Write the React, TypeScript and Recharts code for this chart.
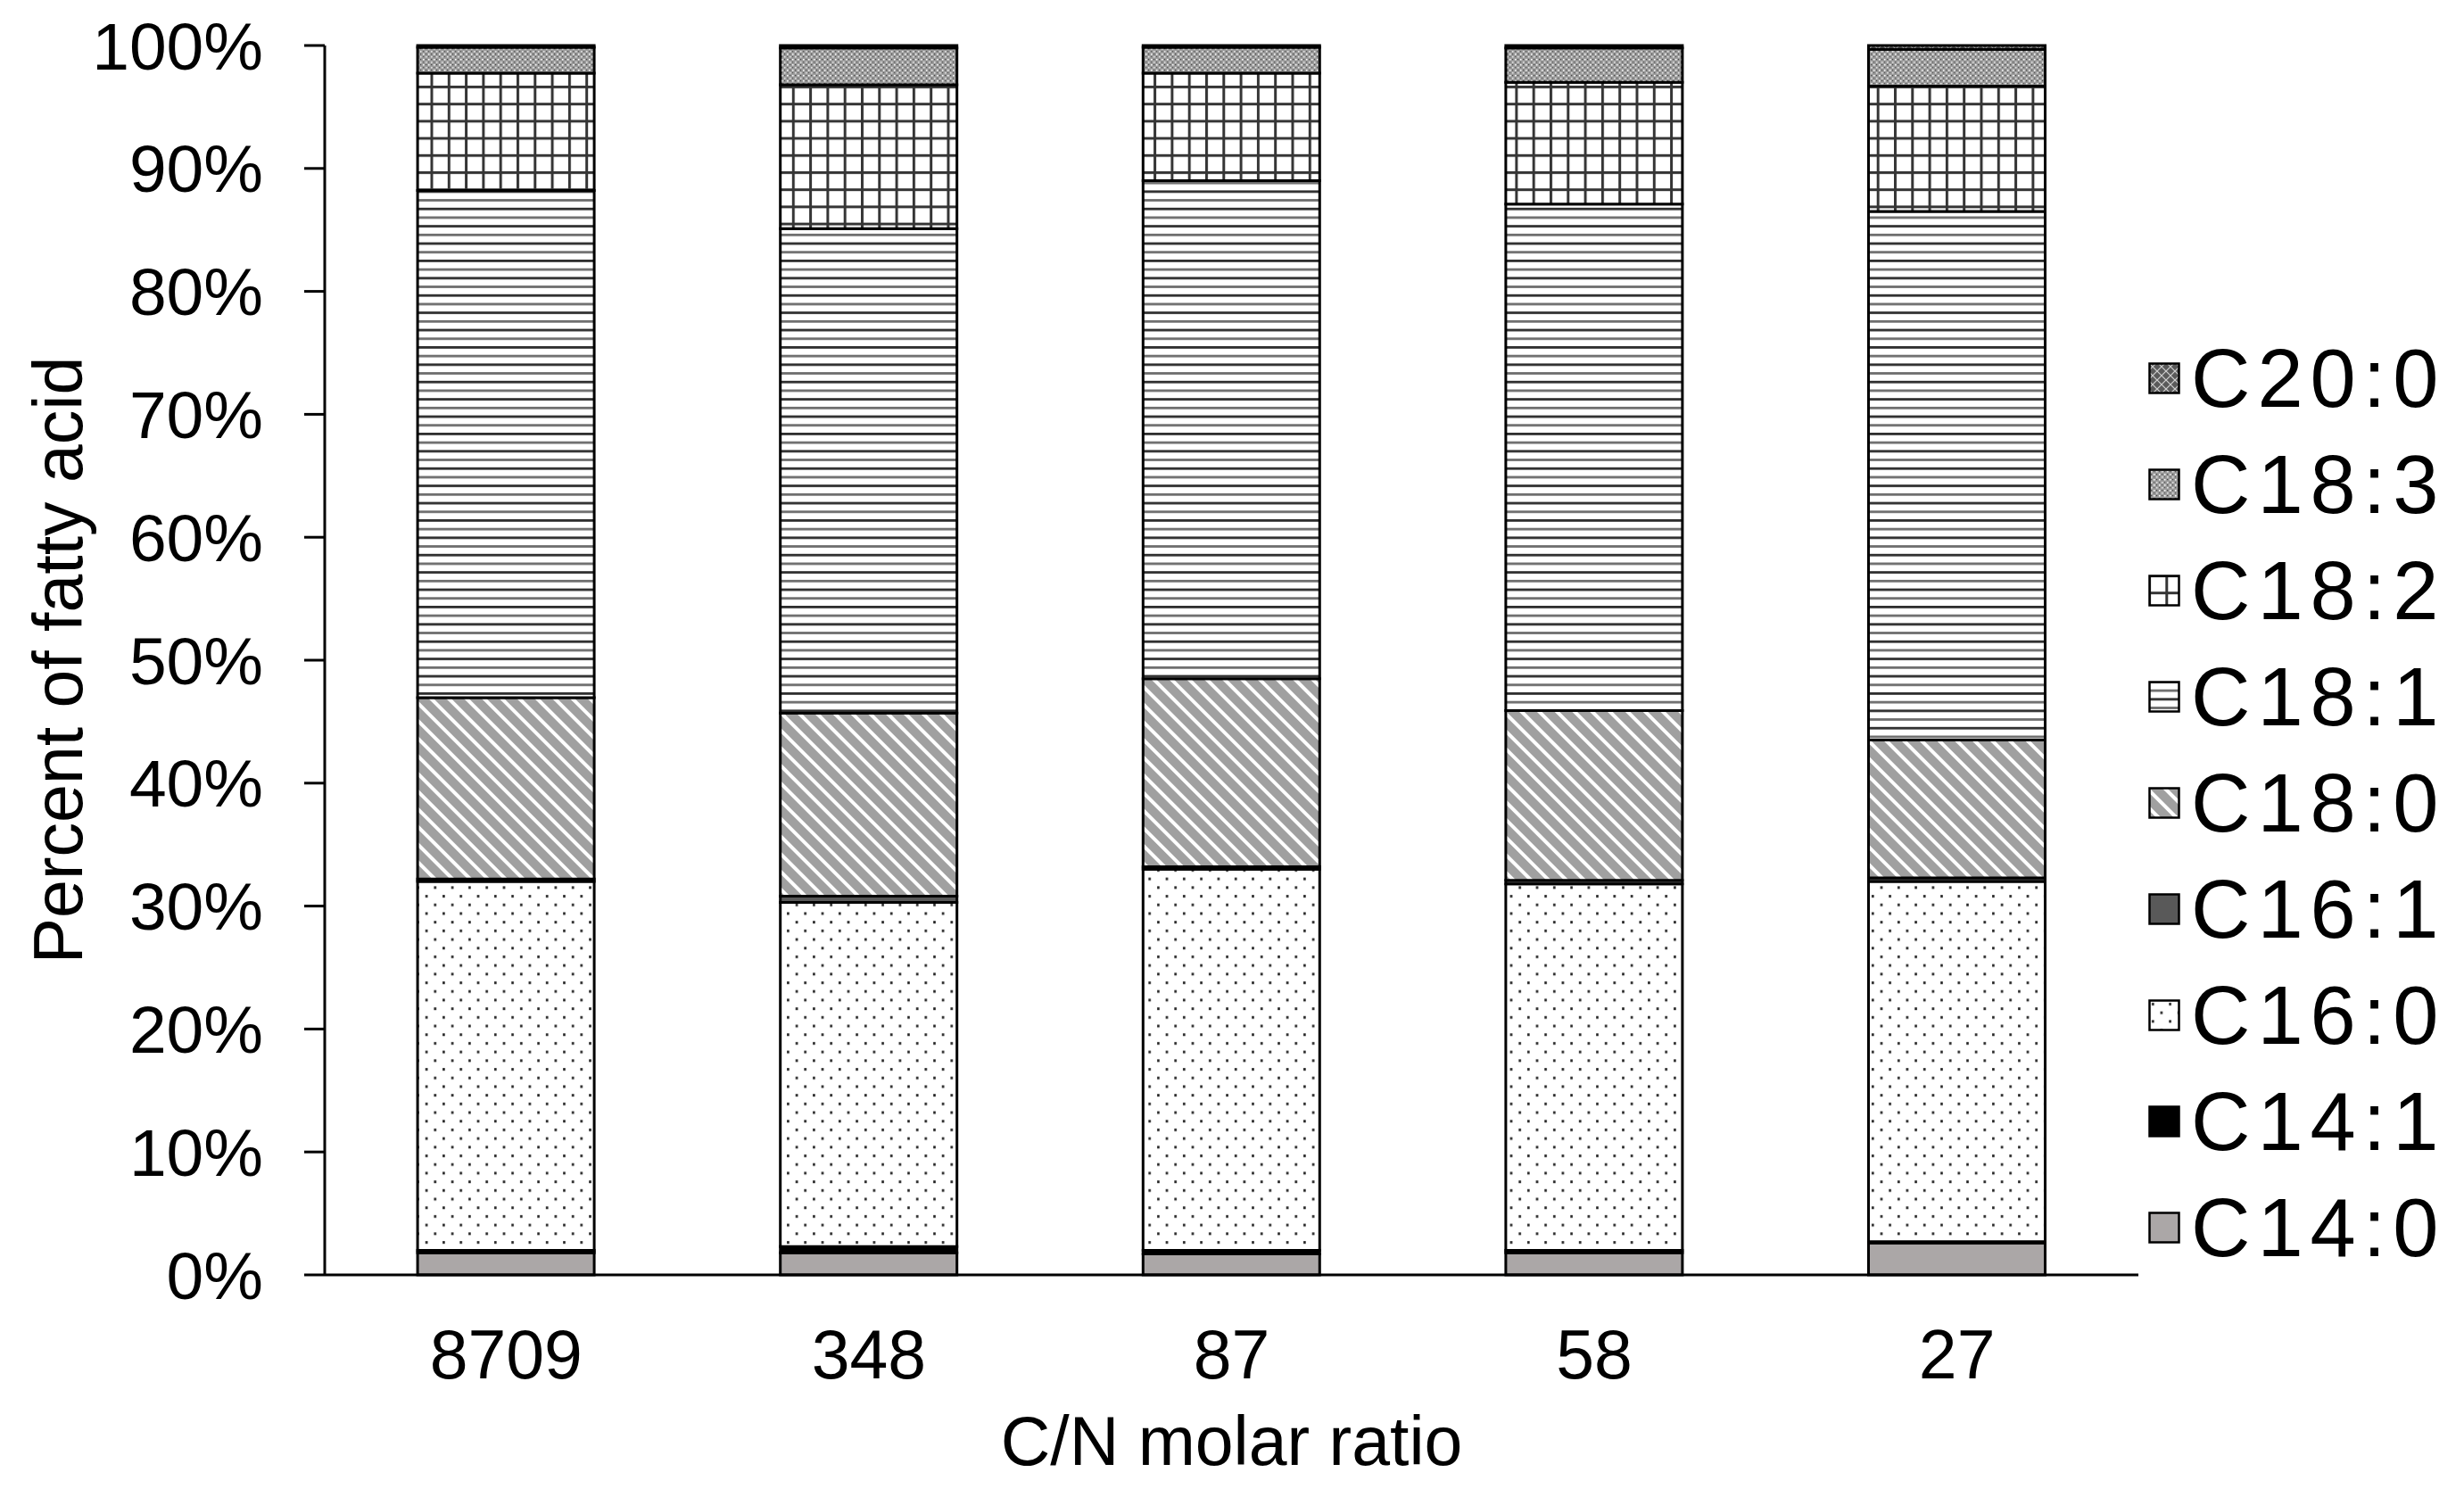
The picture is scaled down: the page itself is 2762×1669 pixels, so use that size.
import React from "react";
import { BarChart, Bar, XAxis, YAxis, Legend } from "recharts";

const FONT = "'Liberation Sans', Arial, Helvetica, sans-serif";

// C/N molar ratio categories
const categories = ["8709", "348", "87", "58", "27"];

// fatty acid share (%) per category, bottom of stack first
const c14_0 = [1.8, 1.8, 1.7, 1.8, 2.6];
const c14_1 = [0.2, 0.5, 0.3, 0.2, 0.1];
const c16_0 = [30.0, 28.0, 31.0, 29.8, 29.3];
const c16_1 = [0.2, 0.5, 0.2, 0.3, 0.3];
const c18_0 = [14.75, 14.9, 15.3, 13.8, 11.2];
const c18_1 = [41.25, 39.4, 40.5, 41.2, 43.0];
const c18_2 = [9.55, 11.7, 8.75, 9.9, 10.2];
const c18_3 = [2.1, 3.0, 2.1, 2.8, 3.0];
const c20_0 = [0.15, 0.2, 0.15, 0.2, 0.3];

const seriesNames = ["C14:0", "C14:1", "C16:0", "C16:1", "C18:0", "C18:1", "C18:2", "C18:3", "C20:0"];
const seriesValues = [c14_0, c14_1, c16_0, c16_1, c18_0, c18_1, c18_2, c18_3, c20_0];
const seriesFills = [
  "#aba7a7",
  "#000000",
  "url(#pat-c160)",
  "#595959",
  "url(#pat-c180)",
  "url(#pat-c181)",
  "url(#pat-c182)",
  "url(#pat-c183)",
  "url(#pat-c200)",
];

const yTicks = [0, 10, 20, 30, 40, 50, 60, 70, 80, 90, 100];

const data = categories.map((ratio, i) => {
  const row: Record<string, string | number> = { ratio };
  seriesNames.forEach((name, j) => {
    row[name] = seriesValues[j][i];
  });
  return row;
});

const Patterns = () => (
  <defs>
    {/* C16:0 sparse dots */}
    <pattern id="pat-c160" patternUnits="userSpaceOnUse" width="19.3" height="19.4">
      <rect width="19.3" height="19.4" fill="#ffffff" />
      <rect x="4" y="4" width="2.6" height="3" fill="#222222" />
      <rect x="13.6" y="13.7" width="2.6" height="3" fill="#222222" />
    </pattern>
    {/* C18:0 gray with white diagonal lines */}
    <pattern id="pat-c180" patternUnits="userSpaceOnUse" width="14" height="14" patternTransform="rotate(45)">
      <rect width="14" height="14" fill="#a0a0a0" />
      <rect x="0" y="0" width="14" height="4" fill="#ffffff" />
    </pattern>
    {/* C18:1 horizontal lines */}
    <pattern id="pat-c181" patternUnits="userSpaceOnUse" width="20" height="19.4">
      <rect width="20" height="19.4" fill="#ffffff" />
      <rect x="0" y="0" width="20" height="2.8" fill="#2e2e2e" />
      <rect x="0" y="9.7" width="20" height="2.8" fill="#6e6e6e" />
    </pattern>
    {/* C18:2 grid */}
    <pattern id="pat-c182" patternUnits="userSpaceOnUse" width="19.3" height="19.2">
      <rect width="19.3" height="19.2" fill="#ffffff" />
      <rect x="0" y="0" width="3" height="19.2" fill="#353535" />
      <rect x="0" y="0" width="19.3" height="3" fill="#353535" />
    </pattern>
    {/* C18:3 fine stipple */}
    <pattern id="pat-c183" patternUnits="userSpaceOnUse" width="6" height="6">
      <rect width="6" height="6" fill="#9c9c9c" />
      <rect x="0" y="0" width="1.5" height="1.5" fill="#ffffff" />
      <rect x="3" y="3" width="1.5" height="1.5" fill="#e6e6e6" />
      <rect x="3" y="0" width="1.2" height="1.2" fill="#444444" />
      <rect x="0" y="3" width="1.2" height="1.2" fill="#555555" />
    </pattern>
    {/* C20:0 dark lattice */}
    <pattern id="pat-c200" patternUnits="userSpaceOnUse" width="10" height="10">
      <rect width="10" height="10" fill="#5a5a5a" />
      <path d="M0,0 L10,10 M10,0 L0,10" stroke="#d0d0d0" strokeWidth="1.2" />
    </pattern>
  </defs>
);

const LegendBox = (props: any) => {
  const payload = (props.payload && props.payload.length
    ? props.payload.map((p: any) => ({ name: p.value, fill: p.color }))
    : seriesNames.map((n, i) => ({ name: n, fill: seriesFills[i] }))
  ).slice().reverse();
  return (
    <div style={{ fontFamily: FONT }}>
      {payload.map((item: any) => (
        <div key={item.name} style={{ display: "flex", alignItems: "center", height: 119 }}>
          <svg width={36} height={36} style={{ display: "block" }}>
            <rect x={1.5} y={1.5} width={33} height={33} fill={item.fill} stroke="#000" strokeWidth={2.5} />
          </svg>
          <span style={{ marginLeft: 12, fontSize: 92, letterSpacing: 8, color: "#000", lineHeight: 1 }}>
            {item.name}
          </span>
        </div>
      ))}
    </div>
  );
};

export default function App() {
  return (
    <div style={{ position: "relative", width: 2762, height: 1669, background: "#fff" }}>
      <style>{"body{margin:0;background:#fff}"}</style>
      <BarChart
        width={2762}
        height={1669}
        data={data}
        margin={{ top: 51, right: 365, bottom: 100, left: 0 }}
        barCategoryGap="25.6%"
        style={{ fontFamily: FONT }}
      >
        <Patterns />
        <XAxis
          dataKey="ratio"
          height={140}
          tickLine={false}
          tickSize={0}
          tickMargin={61}
          axisLine={{ stroke: "#000", strokeWidth: 3 }}
          tick={{ fontSize: 77, fill: "#000", fontFamily: FONT }}
          label={{
            content: (p: any) => {
              const vb = p.viewBox || { x: 364, y: 1429, width: 2033 };
              return (
                <text
                  x={vb.x + vb.width / 2}
                  y={vb.y + 186}
                  textAnchor="middle"
                  dominantBaseline="central"
                  fontSize={77}
                  fontFamily={FONT}
                  fill="#000"
                >
                  C/N molar ratio
                </text>
              );
            },
          }}
        />
        <XAxis xAxisId="top" dataKey="ratio" orientation="top" height={0} tick={false} tickLine={false} axisLine={{ stroke: "#000", strokeWidth: 3 }} />
        <YAxis
          width={364}
          domain={[0, 100]}
          ticks={yTicks}
          interval={0}
          tickFormatter={(v: number) => `${v}%`}
          tickSize={23}
          tickMargin={46}
          tickLine={{ stroke: "#000", strokeWidth: 3 }}
          axisLine={{ stroke: "#000", strokeWidth: 3 }}
          tick={{ fontSize: 75, fill: "#000", fontFamily: FONT }}
          label={{
            content: (p: any) => {
              const vb = p.viewBox || { x: 0, y: 51, width: 364, height: 1378 };
              const cx = 65;
              const cy = vb.y + vb.height / 2;
              return (
                <text
                  x={cx}
                  y={cy}
                  transform={`rotate(-90 ${cx} ${cy})`}
                  textAnchor="middle"
                  dominantBaseline="central"
                  fontSize={77}
                  fontFamily={FONT}
                  fill="#000"
                >
                  Percent of fatty acid
                </text>
              );
            },
          }}
        />
        <YAxis yAxisId="right" orientation="right" width={0} domain={[0, 100]} tick={false} tickLine={false} axisLine={{ stroke: "#000", strokeWidth: 3 }} />
        <Legend
          layout="vertical"
          align="center"
          verticalAlign="middle"
          content={LegendBox}
          wrapperStyle={{ left: 2408, top: 364, width: 354 }}
        />
        {seriesNames.map((name, i) => (
          <Bar
            key={name}
            dataKey={name}
            name={name}
            stackId="fa"
            fill={seriesFills[i]}
            stroke="#000"
            strokeWidth={3}
            isAnimationActive={false}
          />
        ))}
      </BarChart>
    </div>
  );
}
